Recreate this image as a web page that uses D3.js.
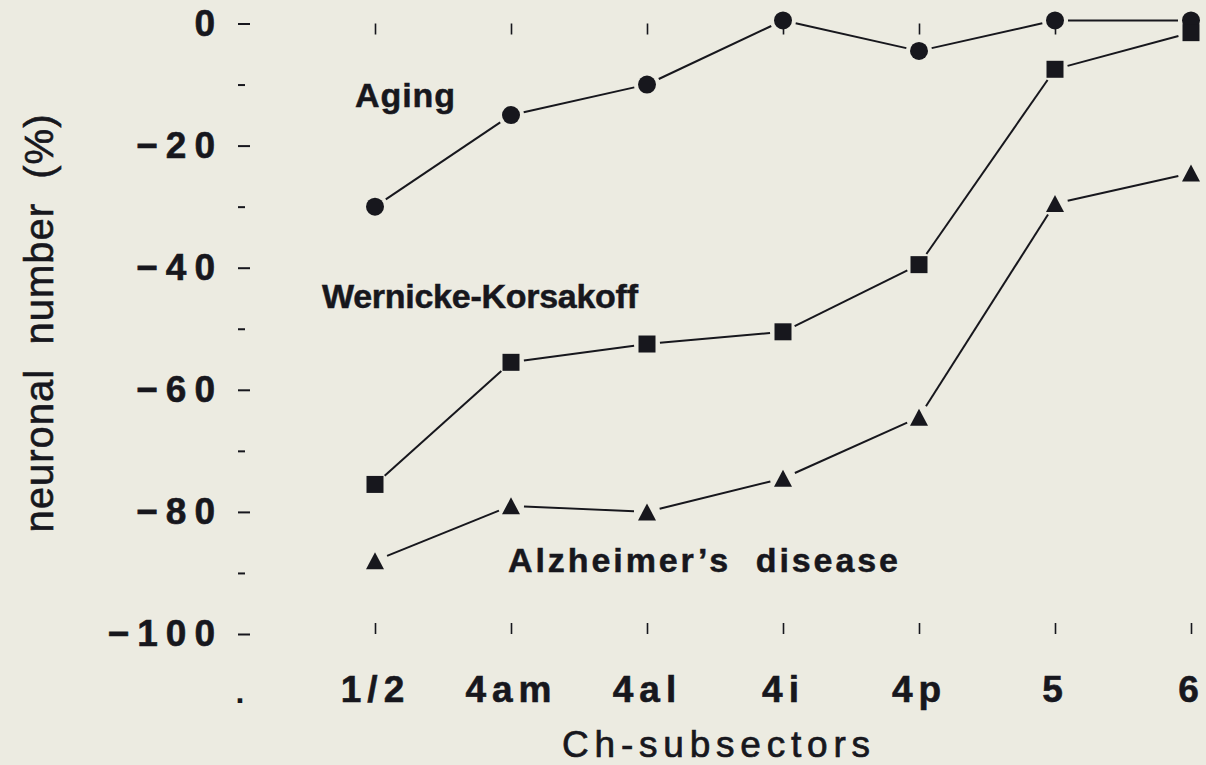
<!DOCTYPE html>
<html>
<head>
<meta charset="utf-8">
<script src="https://cdn.jsdelivr.net/npm/d3@7"></script>
<style>
  html, body { margin: 0; padding: 0; background: #ecebe1; }
  svg { display: block; }
  text { font-family: "Liberation Sans", Arial, Helvetica, sans-serif; fill: #17171d; }
</style>
</head>
<body>
<svg id="chart" width="1206" height="765"></svg>
<script>
// Change in neuronal number (%) per Ch subsector
const subsectors = ["1/2", "4am", "4al", "4i", "4p", "5", "6"];
const aging = [-30, -15, -10, 0.5, -4.5, 0.5, 0.5];
const wernickeKorsakoff = [-75.5, -55.5, -52.5, -50.5, -39.5, -7.5, -1.5];
const alzheimer = [-88, -79, -80, -74.5, -64.5, -29.5, -24.5];
const yMajorTicks = [0, -20, -40, -60, -80, -100];
const yMinorTicks = [-10, -30, -50, -70, -90];
const seriesLabels = ["Aging", "Wernicke-Korsakoff", "Alzheimer\u2019s  disease"];

const ink = "#17171d";
const svg = d3.select("#chart");

const x = d3.scalePoint().domain(subsectors).range([375, 1191]);
const y = d3.scaleLinear().domain([-100, 0]).range([634, 23.5]);

// Y axis: major ticks with labels, minor ticks without
const yAxis = svg.append("g")
  .attr("transform", "translate(250,0)")
  .call(d3.axisLeft(y).tickValues(yMajorTicks).tickSize(12).tickPadding(15)
    .tickFormat(d => d === 0 ? "0" : "\u2212" + Math.abs(d)));
yAxis.select(".domain").remove();
yAxis.selectAll("line").attr("stroke", ink).attr("stroke-width", 2);
yAxis.selectAll("text")
  .attr("fill", ink)
  .style("font-size", "37px").style("font-weight", "bold")
  .style("letter-spacing", "8px")
  .attr("stroke", ink).attr("stroke-width", 0.6);

const yMinor = svg.append("g")
  .attr("transform", "translate(245,0)")
  .call(d3.axisLeft(y).tickValues(yMinorTicks).tickSize(7).tickFormat(""));
yMinor.select(".domain").remove();
yMinor.selectAll("line").attr("stroke", ink).attr("stroke-width", 2);

// X axis: short ticks along the top (0 %) and bottom (-100 %) edges
const xTop = svg.append("g")
  .attr("transform", `translate(0,${y(0)})`)
  .call(d3.axisBottom(x).tickSize(11).tickFormat(""));
xTop.select(".domain").remove();
xTop.selectAll("line").attr("stroke", ink).attr("stroke-width", 1.6);

const xBottom = svg.append("g")
  .attr("transform", `translate(0,${y(-100)})`)
  .call(d3.axisTop(x).tickSize(11).tickFormat(""));
xBottom.select(".domain").remove();
xBottom.selectAll("line").attr("stroke", ink).attr("stroke-width", 1.6);

const xLabels = svg.append("g")
  .attr("transform", `translate(0,${y(-100)})`)
  .call(d3.axisBottom(x).tickSize(0).tickPadding(42));
xLabels.select(".domain").remove();
xLabels.selectAll("text")
  .attr("fill", ink)
  .style("font-size", "37px").style("font-weight", "bold")
  .style("letter-spacing", "6px")
  .attr("stroke", ink).attr("stroke-width", 0.6);

svg.append("text").attr("x", 240).attr("y", 703)
  .attr("text-anchor", "middle")
  .style("font-size", "32px").style("font-weight", "bold").text(".");

// Axis titles
svg.append("text")
  .attr("transform", "translate(53,323) rotate(-90)")
  .attr("text-anchor", "middle")
  .style("font-size", "40px")
  .style("white-space", "pre")
  .style("letter-spacing", "1px")
  .attr("stroke", ink).attr("stroke-width", 0.6)
  .text("neuronal  number  (%)");

svg.append("text")
  .attr("x", 562).attr("y", 757)
  .attr("textLength", 308).attr("lengthAdjust", "spacing")
  .style("font-size", "37px")
  .attr("stroke", ink).attr("stroke-width", 0.7)
  .text("Ch-subsectors");

// Series: lines stop short of each marker
const series = [
  { values: aging, shape: "circle" },
  { values: wernickeKorsakoff, shape: "square" },
  { values: alzheimer, shape: "triangle" }
];
const gap = 13;

series.forEach(s => {
  const pts = subsectors.map((c, i) => [x(c), y(s.values[i])]);
  const segs = d3.pairs(pts).map(([a, b]) => {
    const dx = b[0] - a[0], dy = b[1] - a[1];
    const len = Math.hypot(dx, dy);
    const ux = dx / len, uy = dy / len;
    return [[a[0] + ux * gap, a[1] + uy * gap], [b[0] - ux * gap, b[1] - uy * gap]];
  });
  const g = svg.append("g");
  g.selectAll("line").data(segs).join("line")
    .attr("x1", d => d[0][0]).attr("y1", d => d[0][1])
    .attr("x2", d => d[1][0]).attr("y2", d => d[1][1])
    .attr("stroke", ink).attr("stroke-width", 2);

  const m = g.selectAll(".mark").data(pts).join("path").attr("class", "mark")
    .attr("fill", ink)
    .attr("transform", d => `translate(${d[0]},${d[1]})`);
  if (s.shape === "circle") {
    m.attr("d", d3.symbol(d3.symbolCircle, Math.PI * 9 * 9)());
  } else if (s.shape === "square") {
    m.attr("d", "M-8.5,-8.5H8.5V8.5H-8.5Z");
  } else {
    m.attr("d", "M0,-8.5L9,8.5H-9Z");
  }
});

// Series labels
const labelPos = [
  { x: 355, y: 107, w: 100 },
  { x: 322, y: 308, w: 316 },
  { x: 508, y: 572, w: 390 }
];
svg.selectAll(".series-label").data(seriesLabels).join("text")
  .attr("class", "series-label")
  .attr("x", (d, i) => labelPos[i].x).attr("y", (d, i) => labelPos[i].y)
  .attr("textLength", (d, i) => labelPos[i].w).attr("lengthAdjust", "spacing")
  .style("font-size", "34px").style("font-weight", "bold")
  .style("white-space", "pre")
  .attr("stroke", ink).attr("stroke-width", 0.5)
  .text(d => d);
</script>
</body>
</html>
